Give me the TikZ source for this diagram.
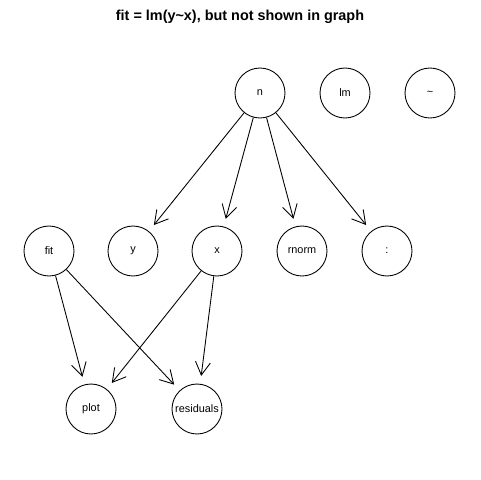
\documentclass[tikz,border=0pt]{standalone}
\usepackage{fontspec}
\setmainfont{Liberation Sans}
\usetikzlibrary{arrows.meta}

\begin{document}
\begin{tikzpicture}[x=0.02cm, y=-0.02cm,
        vertex/.style={draw, circle, minimum size=1cm, inner sep=0pt, line width=0.5pt, font=\fontsize{6.2}{7}\selectfont},
        link/.style={-{Straight Barb[length=7.4pt, width=8.5pt, line width=0.5pt]}, line width=0.5pt, shorten >=4.5pt}]
        \useasboundingbox (0,0) rectangle (480,480);

        % the title
        \node[font=\fontsize{8.2}{10}\bfseries\selectfont] (title) at (240,17) {fit = lm(y\textasciitilde x), but not shown in graph};

        % the vertices
        \node[vertex] (n) at (260,93) {n};
        \node[vertex] (lm) at (345,93) {lm};
        \node[vertex] (tilde) at (430,93) {\textasciitilde};
        \node[vertex] (fit) at (49,251) {fit};
        \node[vertex] (y) at (133,251) {y};
        \node[vertex] (x) at (217,251) {x};
        \node[vertex] (rnorm) at (302,251) {rnorm};
        \node[vertex] (colon) at (387,251) {:};
        \node[vertex] (plot) at (91,409) {plot};
        \node[vertex] (resid) at (197,409) {residuals};

        % the edges
        \draw[link] (n) -- (y);
        \draw[link] (n) -- (x);
        \draw[link] (n) -- (rnorm);
        \draw[link] (n) -- (colon);
        \draw[link] (fit) -- (plot);
        \draw[link] (fit) -- (resid);
        \draw[link] (x) -- (plot);
        \draw[link] (x) -- (resid);

    \end{tikzpicture}
\end{document}
